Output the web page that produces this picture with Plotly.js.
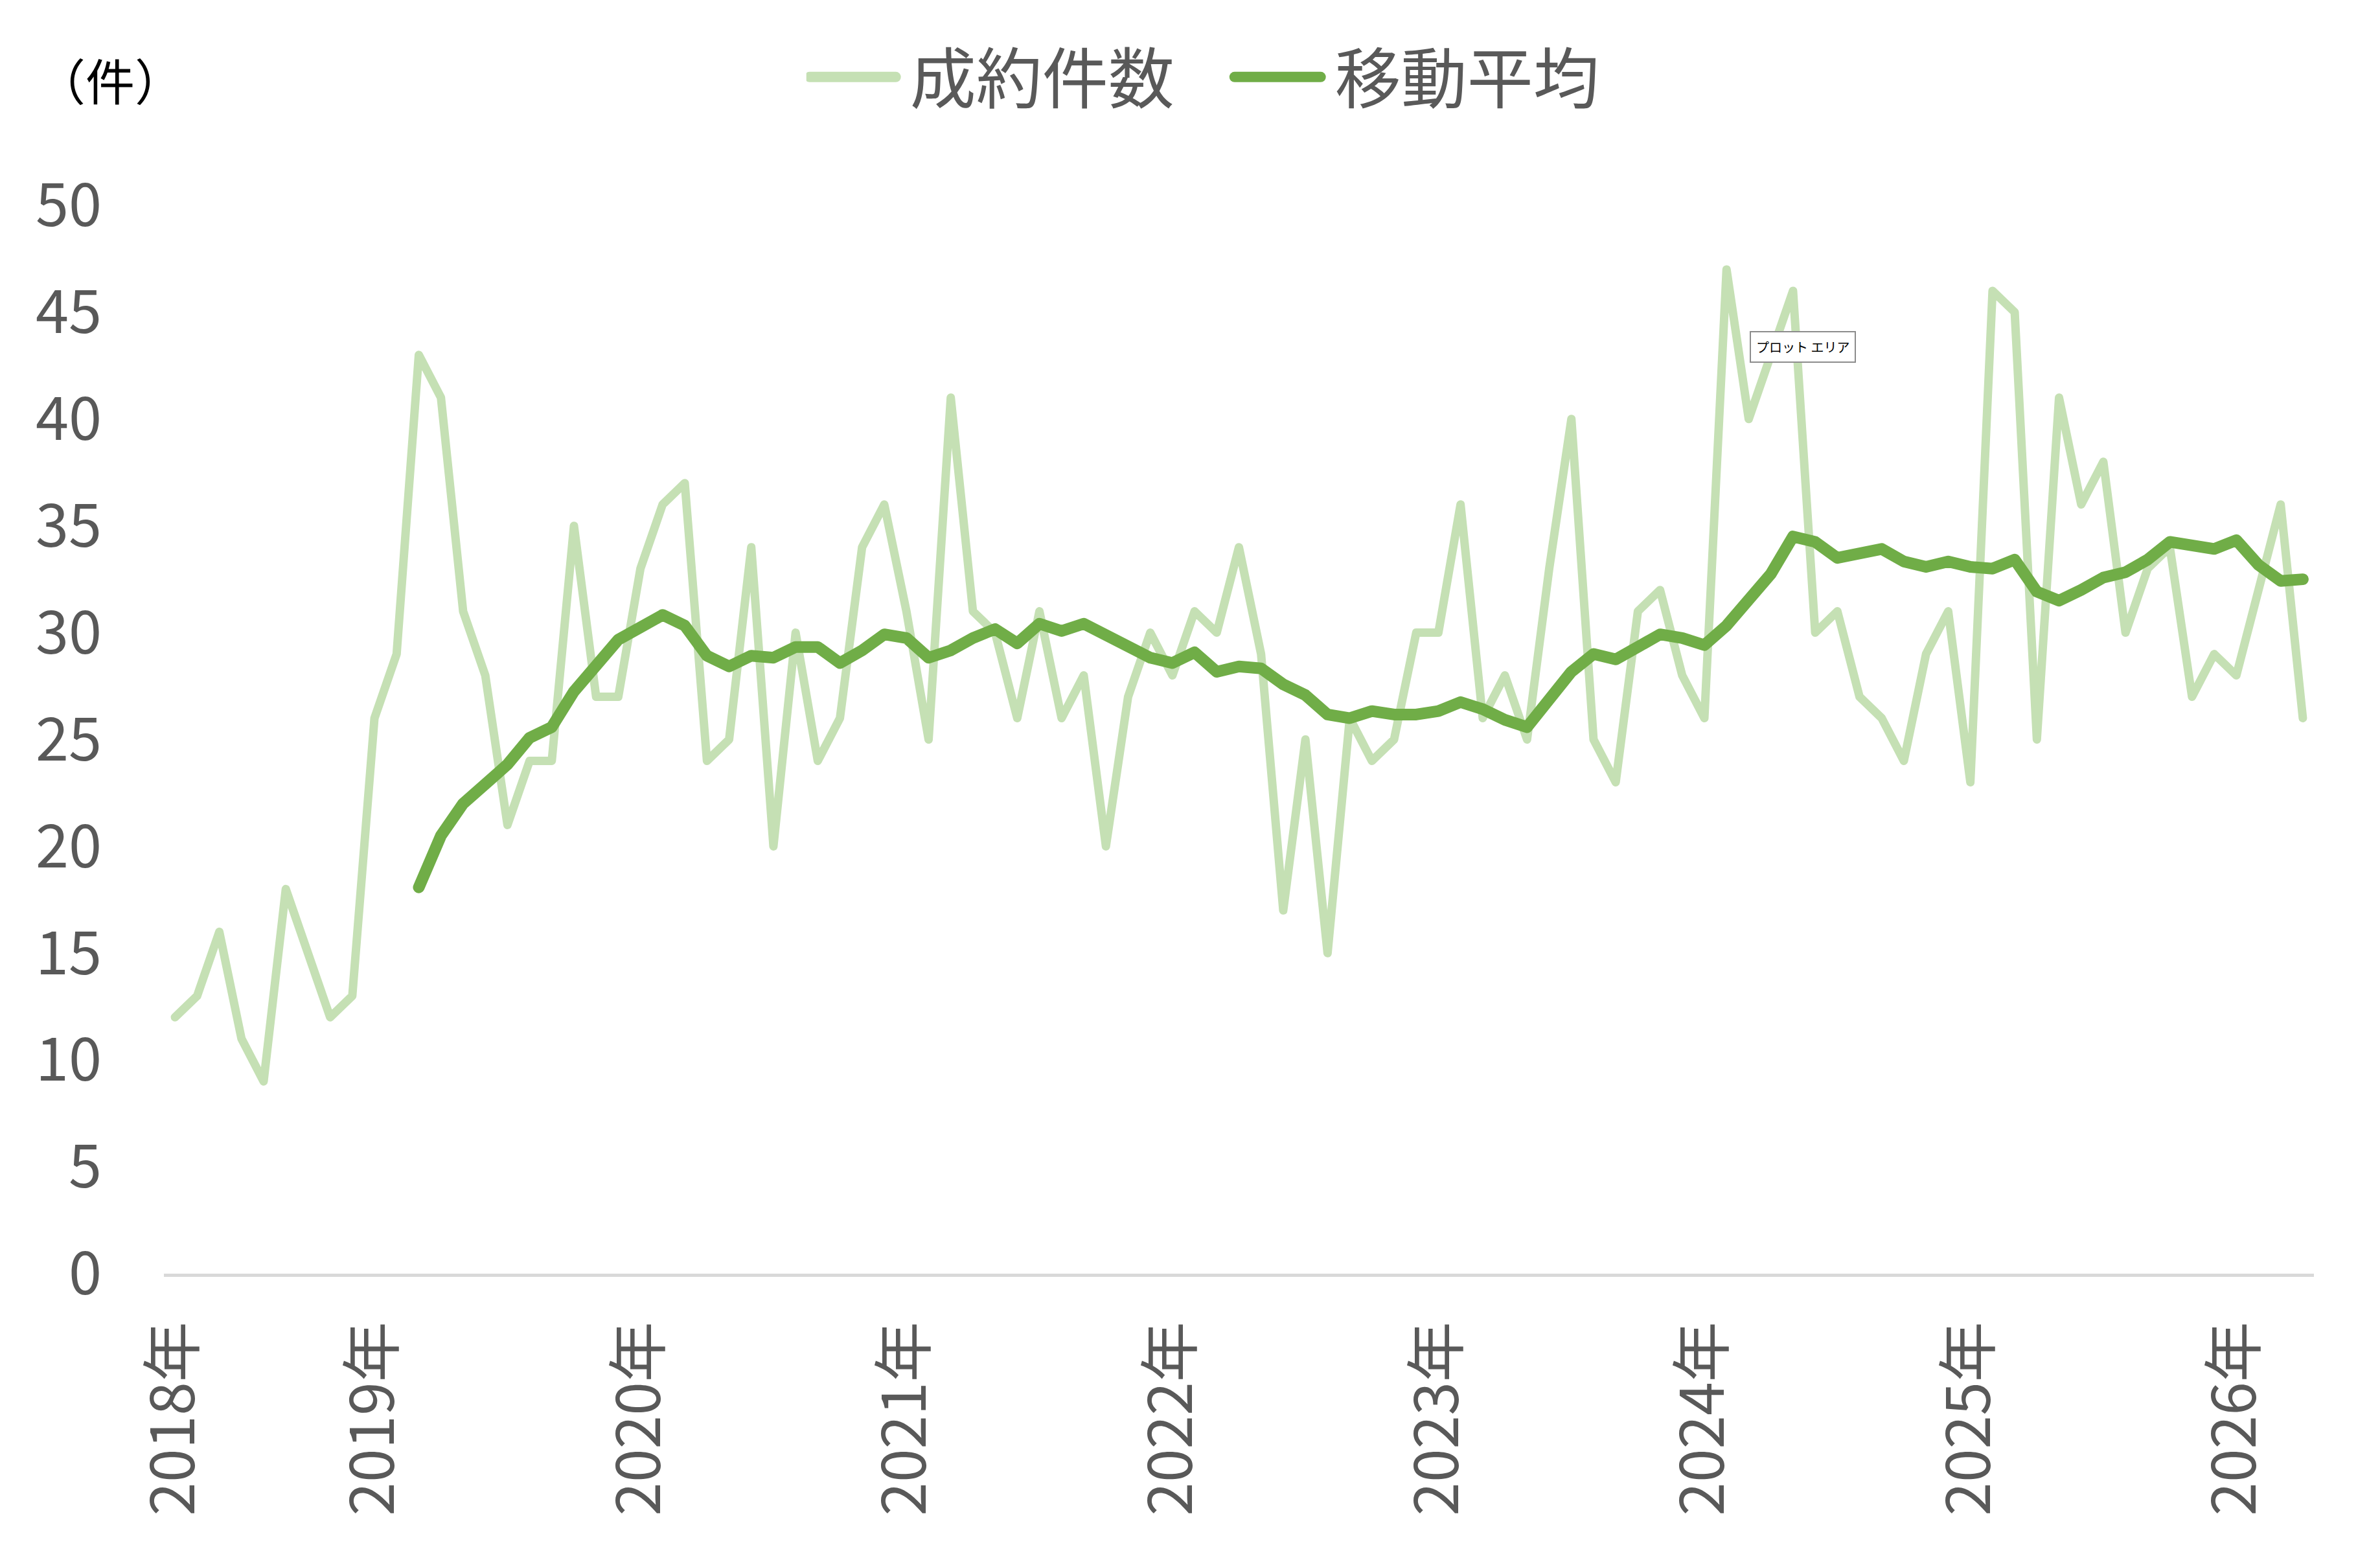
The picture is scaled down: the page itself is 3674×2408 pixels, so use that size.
<!DOCTYPE html>
<html>
<head>
<meta charset="utf-8">
<script src="https://cdn.plot.ly/plotly-3.0.1.min.js"></script>
<style>
  html, body { margin: 0; padding: 0; background: #fff; }
  #chart { width: 3674px; height: 2408px; }
  #chart .scatterlayer .js-line { stroke-linejoin: round !important; stroke-linecap: round !important; }
  #chart .legendlines path { stroke-width: 16px !important; stroke-linecap: round !important; }
</style>
</head>
<body>
<div id="chart"></div>
<script>
// 成約件数 (monthly, 2018/4 - 2026/4)
var contracts = [12, 13, 16, 11, 9, 18, 15, 12, 13,
  26, 29, 43, 41, 31, 28, 21, 24, 24, 35, 27, 27,
  33, 36, 37, 24, 25, 34, 20, 30, 24, 26, 34, 36,
  31, 25, 41, 31, 30, 26, 31, 26, 28, 20, 27, 30,
  28, 31, 30, 34, 29, 17, 25, 15, 26, 24, 25, 30,
  30, 36, 26, 28, 25, 33, 40, 25, 23, 31, 32, 28,
  26, 47, 40, 43, 46, 30, 31, 27, 26, 24, 29, 31,
  23, 46, 45, 25, 41, 36, 38, 30, 33, 34, 27, 29,
  28, 32, 36, 26];

// 移動平均 (12ヶ月)
var movingAvg = [null, null, null, null, null, null, null, null, null,
  null, null, 18.08, 20.5, 22.0, 23.0, 23.83, 25.08, 25.58, 27.25, 28.5, 29.67,
  30.25, 30.83, 30.33, 28.92, 28.42, 28.92, 28.83, 29.33, 29.33, 28.58, 29.17, 29.92,
  29.75, 28.83, 29.17, 29.75, 30.17, 29.5, 30.42, 30.08, 30.42, 29.92, 29.33, 28.83,
  28.58, 29.08, 28.17, 28.42, 28.33, 27.58, 27.08, 26.17, 26.0, 26.33, 26.17, 26.17,
  26.33, 26.75, 26.42, 25.92, 25.58, 26.92, 28.17, 29.0, 28.75, 29.33, 29.92, 29.75,
  29.42, 30.33, 31.5, 32.75, 34.5, 34.25, 33.5, 33.67, 33.92, 33.33, 33.08, 33.33,
  33.08, 33.0, 33.42, 31.92, 31.5, 32.0, 32.58, 32.83, 33.42, 34.25, 34.08, 33.92,
  34.33, 33.17, 32.42, 32.5];

var tickMonths = ['2018/4', '2019/1', '2020/1', '2021/1', '2022/1', '2023/1', '2024/1', '2025/1', '2026/1'];
var tickLabels = ['2018年', '2019年', '2020年', '2021年', '2022年', '2023年', '2024年', '2025年', '2026年'];

// month categories from 2018/4
var months = [];
for (var i = 0; i < contracts.length; i++) {
  var m = 3 + i;
  months.push((2018 + Math.floor(m / 12)) + '/' + (m % 12 + 1));
}

var font = '"Noto Sans CJK JP", "Noto Sans", sans-serif';
var W = 3674, H = 2408;
var mL = 253, mR = 102, mT = 317, mB = 442;
var plotW = W - mL - mR, plotH = H - mT - mB;

var traces = [
  {
    x: months, y: contracts, name: '\u2006成約件数', type: 'scatter', mode: 'lines',
    line: { color: '#c5e0b4', width: 13 }
  },
  {
    x: months, y: movingAvg, name: '\u2006移動平均', type: 'scatter', mode: 'lines',
    line: { color: '#70ad47', width: 18 }, connectgaps: false
  }
];

var layout = {
  width: W, height: H,
  margin: { l: mL, r: mR, t: mT, b: mB },
  paper_bgcolor: '#fff', plot_bgcolor: '#fff',
  font: { family: font, color: '#595959', size: 92 },
  showlegend: true,
  legend: {
    orientation: 'h', xref: 'container', yref: 'container',
    x: 0.3388, xanchor: 'left', y: 1 - 119 / H, yanchor: 'middle',
    font: { size: 102, color: '#595959', family: font },
    itemwidth: 133, entrywidth: 508, bgcolor: 'rgba(0,0,0,0)'
  },
  xaxis: {
    type: 'category', range: [-0.5, contracts.length - 0.5],
    tickmode: 'array', tickvals: tickMonths, ticktext: tickLabels,
    tickangle: -90, ticks: '', ticklabelstandoff: 32,
    showline: true, linecolor: '#d9d9d9', linewidth: 5,
    showgrid: false, zeroline: false,
    tickfont: { size: 93, color: '#595959', family: font }
  },
  yaxis: {
    range: [0, 50], dtick: 5, tick0: 0,
    showgrid: false, zeroline: false, showline: false, ticks: '',
    ticklabelstandoff: 95,
    tickfont: { size: 92, color: '#595959', family: font }
  },
  annotations: [
    {
      text: '（件）', xref: 'paper', yref: 'paper', showarrow: false,
      x: (170 - mL) / plotW, y: (H - mB - 122) / plotH, xanchor: 'center', yanchor: 'middle',
      font: { size: 76, color: '#000', family: font }
    },
    {
      text: 'プロット エリア', xref: 'paper', yref: 'paper', showarrow: false,
      x: (2783 - mL) / plotW, y: (H - mB - 535) / plotH, xanchor: 'center', yanchor: 'middle',
      bgcolor: '#fff', bordercolor: '#8c8c8c', borderwidth: 2, borderpad: 8,
      font: { size: 20, color: '#000', family: font }
    }
  ]
};

Plotly.newPlot('chart', traces, layout, { displayModeBar: false, staticPlot: true }).then(function (gd) {
  // thicker legend samples, like the original
  gd.querySelectorAll('.legendlines path').forEach(function (p) {
    p.style.setProperty('stroke-width', '16px', 'important');
    p.style.setProperty('stroke-linecap', 'round', 'important');
  });
});
</script>
</body>
</html>
